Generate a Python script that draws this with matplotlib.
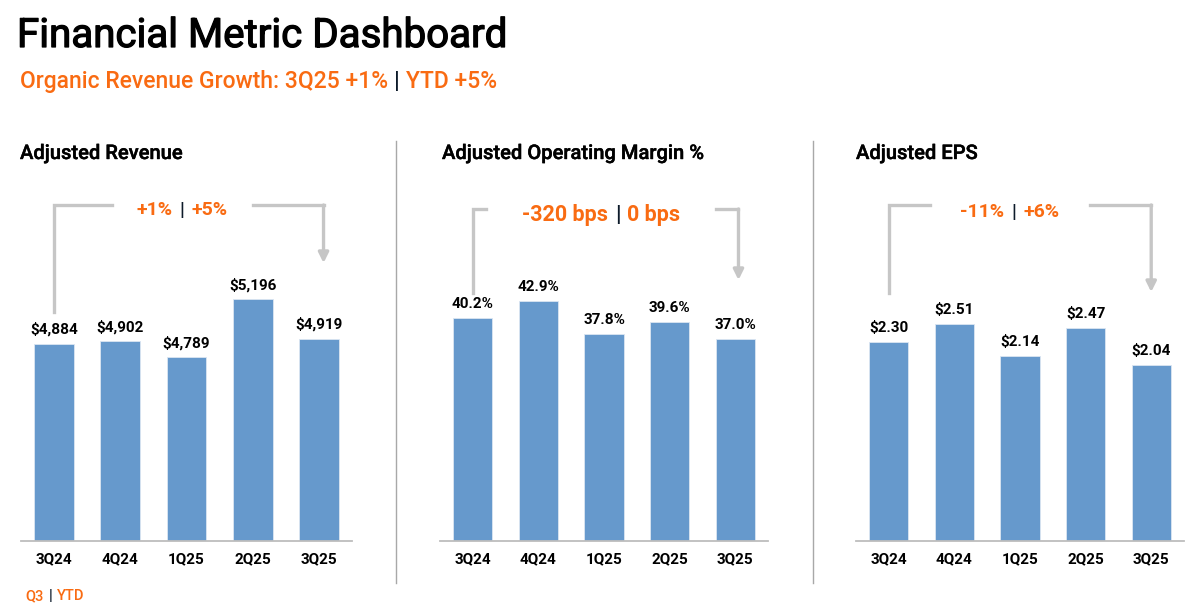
import numpy as np
import matplotlib
matplotlib.use('Agg')
import matplotlib.pyplot as plt
import matplotlib.transforms as mtrans
import matplotlib.patheffects as pe
from matplotlib.lines import Line2D

plt.rcParams['font.family'] = ['Roboto', 'DejaVu Sans']

# data
quarters = ['3Q24', '4Q24', '1Q25', '2Q25', '3Q25']
revenue = [4884, 4902, 4789, 5196, 4919]
op_margin = [40.2, 42.9, 37.8, 39.6, 37.0]
eps = [2.30, 2.51, 2.14, 2.47, 2.04]

revenue_labels = ['$4,884', '$4,902', '$4,789', '$5,196', '$4,919']
margin_labels = ['40.2%', '42.9%', '37.8%', '39.6%', '37.0%']
eps_labels = ['$2.30', '$2.51', '$2.14', '$2.47', '$2.04']

panel_titles = ['Adjusted Revenue', 'Adjusted Operating Margin %', 'Adjusted EPS']
growth_q3 = ['+1%', '-320 bps', '-11%']
growth_ytd = ['+5%', '0 bps', '+6%']

W, H = 1194, 609
ORANGE = '#f96b12'
DARK = '#0d1b2a'
BLUE = '#6699cc'
GREY = '#c6c6c6'

fig = plt.figure(figsize=(W/100., H/100.), dpi=100)
fig.patch.set_facecolor('w')
renderer = fig.canvas.get_renderer()

def fx(x):
    return x/float(W)

def fy(y):
    return 1 - y/float(H)

def rich_text(x, y, parts, size, weight='bold', ha='left', gap=0, **kw):
    # several coloured pieces on one baseline
    texts = []
    cx = x
    for s, c in parts:
        t = fig.text(fx(cx), fy(y), s, color=c, fontsize=size, fontweight=weight,
                     ha='left', va='baseline', **kw)
        bb = t.get_window_extent(renderer)
        cx = bb.x1 + gap
        texts.append(t)
    if ha == 'center':
        shift = (cx - gap - x)/2.
        for t in texts:
            px, py = t.get_position()
            t.set_position((px - shift/W, py))
    return texts

# header
fig.text(fx(17), fy(47), 'Financial Metric Dashboard', fontsize=29, color='k',
         ha='left', va='baseline',
         path_effects=[pe.withStroke(linewidth=0.9, foreground='k')])
rich_text(20, 88, [('Organic Revenue Growth: 3Q25 +1%', ORANGE), ('|', DARK), ('YTD +5%', ORANGE)],
          16.5, weight='medium', gap=6)

# panel layout: left, right px, ylim bottom, px scale
panels = [
    dict(vals=revenue, labs=revenue_labels, l=21, r=352, lo=3500, sc=7.02,
         tx=20, mid=182, bsize=14, by=215,
         left_end=0.87, right_start=3.0, right_x=4.07, y_top=312, y_h=205, y_arr=263),
    dict(vals=op_margin, labs=margin_labels, l=440, r=768, lo=5.6, sc=0.1554,
         tx=442, mid=601, bsize=15.5, by=221,
         left_end=0.2, right_start=3.7, right_x=4.05, y_top=293, y_h=209, y_arr=280),
    dict(vals=eps, labs=eps_labels, l=856, r=1184, lo=0.0, sc=0.01158,
         tx=856, mid=1010, bsize=14, by=217,
         left_end=0.63, right_start=3.07, right_x=4.0, y_top=293, y_h=205, y_arr=292),
]

base_y = 541
ax_h = 400
x = np.arange(len(quarters))

for i, p in enumerate(panels):
    ax = fig.add_axes([fx(p['l']), fy(base_y), fx(p['r'] - p['l']), ax_h/float(H)])
    bars = ax.bar(x, p['vals'], width=0.6, color=BLUE, edgecolor='#dbe6f2', linewidth=0.6)
    ax.set_xlim(-0.5, 4.5)
    ax.set_ylim(p['lo'], p['lo'] + ax_h*p['sc'])
    ax.bar_label(bars, labels=p['labs'], padding=5, fontsize=11, fontweight='bold')
    ax.set_xticks(x)
    ax.set_xticklabels(quarters, fontsize=11, fontweight='bold')
    ax.tick_params(axis='x', length=0, pad=8)
    ax.set_yticks([])
    for s in ['top', 'left', 'right']:
        ax.spines[s].set_visible(False)
    ax.spines['bottom'].set_color('#bdbdbd')
    ax.spines['bottom'].set_linewidth(1.3)
    ax.set_facecolor('none')

    # panel title
    fig.text(fx(p['tx']), fy(159), panel_titles[i], fontsize=14.5, fontweight='medium',
             ha='left', va='baseline',
             path_effects=[pe.withStroke(linewidth=0.3, foreground='k')])

    # bracket arrow from first to last quarter
    tr = mtrans.blended_transform_factory(ax.transData, fig.transFigure)
    ax.plot([0, 0, p['left_end']], [fy(p['y_top']), fy(p['y_h']), fy(p['y_h'])],
            color=GREY, lw=2.4, transform=tr, clip_on=False, solid_joinstyle='miter')
    ax.plot([p['right_start'], p['right_x']], [fy(p['y_h']), fy(p['y_h'])],
            color=GREY, lw=2.4, transform=tr, clip_on=False, solid_capstyle='projecting')
    ax.annotate('', xy=(p['right_x'], fy(p['y_arr'])), xycoords=tr,
                xytext=(p['right_x'], fy(p['y_h'])), textcoords=tr,
                arrowprops=dict(arrowstyle='-|>,head_length=0.6,head_width=0.3',
                                color=GREY, lw=2.4, shrinkA=0, shrinkB=0),
                annotation_clip=False)

    rich_text(p['mid'], p['by'], [(growth_q3[i], ORANGE), ('|', DARK), (growth_ytd[i], ORANGE)],
              p['bsize'], weight='bold', ha='center', gap=7)

# separators
for xs in [396, 813]:
    fig.add_artist(Line2D([fx(xs), fx(xs)], [fy(141), fy(583)], color='#a8a8a8', lw=1.0))

# footnote
rich_text(25, 600, [('Q3', ORANGE), ('|', DARK), ('YTD', ORANGE)], 10.5, weight='medium', gap=5)

fig.savefig('out.png', dpi=100)
